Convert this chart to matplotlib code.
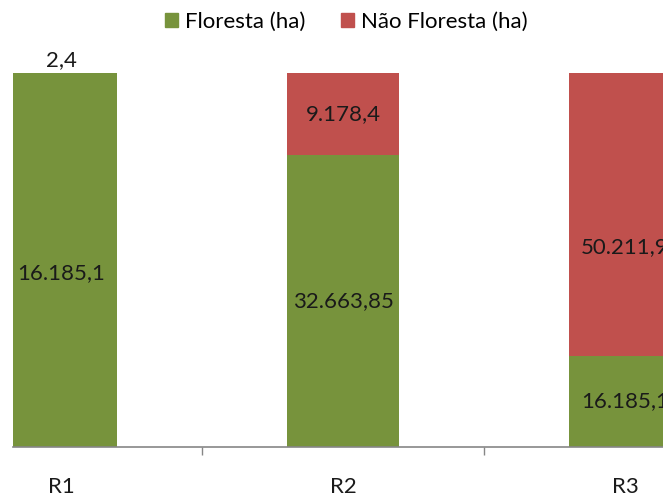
import matplotlib
matplotlib.use("Agg")
import matplotlib.pyplot as plt
from matplotlib.patches import Patch

categories = ["R1", "R2", "R3"]
floresta = [16185.1, 32663.85, 16185.1]
nao_floresta = [2.4, 9178.4, 50211.9]
lbl_floresta = ["16.185,1", "32.663,85", "16.185,1"]
lbl_nao = ["2,4", "9.178,4", "50.211,9"]

GREEN = "#77933C"
RED = "#C0504D"
plt.rcParams['font.family'] = ['Lato', 'DejaVu Sans']

W, H = 663, 497
fig = plt.figure(figsize=(W/100, H/100), dpi=100)
left_px, right_px = 13, 766
bottom_px, top_px = 447, 73
ax = fig.add_axes([left_px/W, (H-bottom_px)/H, (right_px-left_px)/W, (bottom_px-top_px)/H])

tot = [f + n for f, n in zip(floresta, nao_floresta)]
fg = [f/t for f, t in zip(floresta, tot)]
ng = [n/t for n, t in zip(nao_floresta, tot)]
x = list(range(len(categories)))
bw = 0.397
ax.bar(x, fg, width=bw, color=GREEN, edgecolor='none')
ax.bar(x, ng, width=bw, bottom=fg, color=RED, edgecolor='none')

fs = 16
tc = '#1a1a1a'
# manual label offsets (fraction of axis height), as in the reference
off_f = [-0.035, 0.0, 0.0]
off_n = [0.0, 0.0, -0.088]
for i in x:
    ax.text(i, fg[i]/2 + off_f[i], lbl_floresta[i], ha='center', va='center', fontsize=fs, color=tc)
    if ng[i] < 0.05:
        ax.text(i, 1.0 + 0.035, lbl_nao[i], ha='center', va='center', fontsize=fs, color=tc)
    else:
        ax.text(i, fg[i] + ng[i]/2 + off_n[i], lbl_nao[i], ha='center', va='center', fontsize=fs, color=tc)

ax.set_xlim(-(61-13)/282, 2.5)
ax.set_ylim(0, 1)
for s in ['left', 'right', 'top']:
    ax.spines[s].set_visible(False)
ax.spines['bottom'].set_color('#868686')
ax.spines['bottom'].set_linewidth(1.2)
ax.set_yticks([])
ax.set_xticks([0.5, 1.5])
ax.set_xticklabels([])
ax.tick_params(axis='x', length=6, color='#868686', width=1)
for i, c in enumerate(categories):
    ax.text(i, -0.107, c, ha='center', va='center', fontsize=fs, color=tc)

handles = [Patch(color=GREEN, label='Floresta (ha)'), Patch(color=RED, label='Não Floresta (ha)')]
fig.legend(handles=handles, loc='center', bbox_to_anchor=(346/W, 1-22/H), ncol=2, frameon=False,
           fontsize=fs, handlelength=0.6, handleheight=0.6, handletextpad=0.3, columnspacing=1.6,
           borderaxespad=0, borderpad=0)

fig.savefig("out.png", dpi=100)
